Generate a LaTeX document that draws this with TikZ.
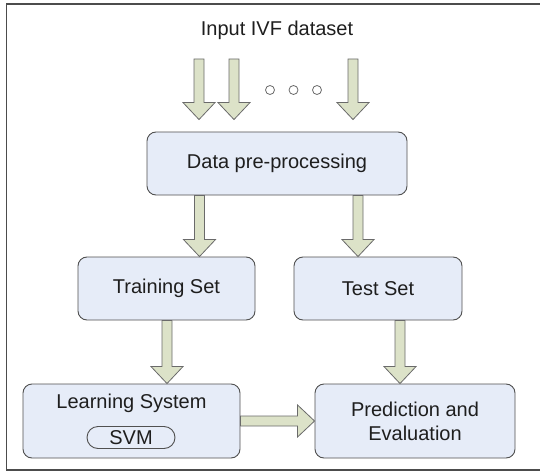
\documentclass[tikz,border=0pt]{standalone}
\usepackage{fontspec}
\setmainfont{Liberation Sans}
\usetikzlibrary{calc, positioning}
\definecolor{boxfill}{HTML}{E6ECF8}
\definecolor{boxline}{HTML}{505050}
\definecolor{arrowfill}{HTML}{DCE2C8}
\definecolor{arrowline}{HTML}{6A6A6A}
\definecolor{textgray}{HTML}{1E1E1E}

\tikzset{
    stagebox/.style={draw=boxline, fill=boxfill, line width=0.9pt, rounded corners=9pt, text=textgray, align=center},
    fatarrow/.style={draw=arrowline, fill=arrowfill, line width=0.8pt, line join=miter,
        to path={($(\tikztostart)!5pt!90:(\tikztotarget)$)
            -- ($(\tikztotarget)!17pt!(\tikztostart)!5pt!90:(\tikztotarget)$)
            -- ($(\tikztotarget)!17pt!(\tikztostart)!16pt!90:(\tikztotarget)$)
            -- (\tikztotarget)
            -- ($(\tikztotarget)!17pt!(\tikztostart)!16pt!-90:(\tikztotarget)$)
            -- ($(\tikztotarget)!17pt!(\tikztostart)!5pt!-90:(\tikztotarget)$)
            -- ($(\tikztostart)!5pt!-90:(\tikztotarget)$) -- cycle}},
    dot/.style={draw=arrowline, fill=white, circle, line width=0.8pt, inner sep=0pt, minimum size=9pt}
}

\begin{document}
\begin{tikzpicture}[x=1pt, y=-1pt, font=\fontsize{20}{24}\selectfont]
    \useasboundingbox (0,0) rectangle (540,473);
    \draw[gray!60!black, line width=1.3pt] (6.5,4) rectangle (545,470);

    % input
    \node[text=textgray] (title) at (277,30) {Input IVF dataset};
    \coordinate (in1) at (199,59);
    \coordinate (in2) at (234,59);
    \coordinate (in3) at (353,59);
    \node[dot] (d1) at (270,90) {};
    \node[dot] (d2) at (293.5,90) {};
    \node[dot] (d3) at (317,90) {};

    % stages
    \node[stagebox, minimum width=260pt, minimum height=63pt] (prep) at (277,163.5) {Data pre-processing};
    \node[stagebox, minimum width=177pt, minimum height=63pt] (train) at (166.5,288.5) {Training Set};
    \node[stagebox, minimum width=168pt, minimum height=63pt] (test) at (378,288.5) {Test Set};
    \node[stagebox, minimum width=217pt, minimum height=74pt] (learn) at (131.5,421) {};
    \node[text=textgray] (learnlbl) at (131.5,403) {Learning System};
    \node[draw=boxline, line width=0.9pt, rounded corners=11pt, minimum width=88pt, minimum height=22pt, inner sep=0pt, text=textgray] (svm) at (131,437.5) {SVM};
    \node[stagebox, minimum width=200pt, minimum height=74pt] (pred) at (415,421) {Prediction and\\Evaluation};

    % arrows
    \draw[fatarrow] (in1) to ($(in1 |- prep.north)+(0,-12)$);
    \draw[fatarrow] (in2) to ($(in2 |- prep.north)+(0,-12)$);
    \draw[fatarrow] (in3) to ($(in3 |- prep.north)+(0,-12)$);
    \coordinate (p1) at ($(prep.south)+(-77.5,0)$);
    \coordinate (p2) at ($(prep.south)+(81,0)$);
    \draw[fatarrow] (p1) to (p1 |- train.north);
    \draw[fatarrow] (p2) to (p2 |- test.north);
    \coordinate (s1) at ($(train.south)+(0.5,0)$);
    \coordinate (s2) at ($(test.south)+(22,0)$);
    \draw[fatarrow] (s1) to (s1 |- learn.north);
    \draw[fatarrow] (s2) to (s2 |- pred.north);
    \draw[fatarrow] (learn.east) to (pred.west);
\end{tikzpicture}
\end{document}
